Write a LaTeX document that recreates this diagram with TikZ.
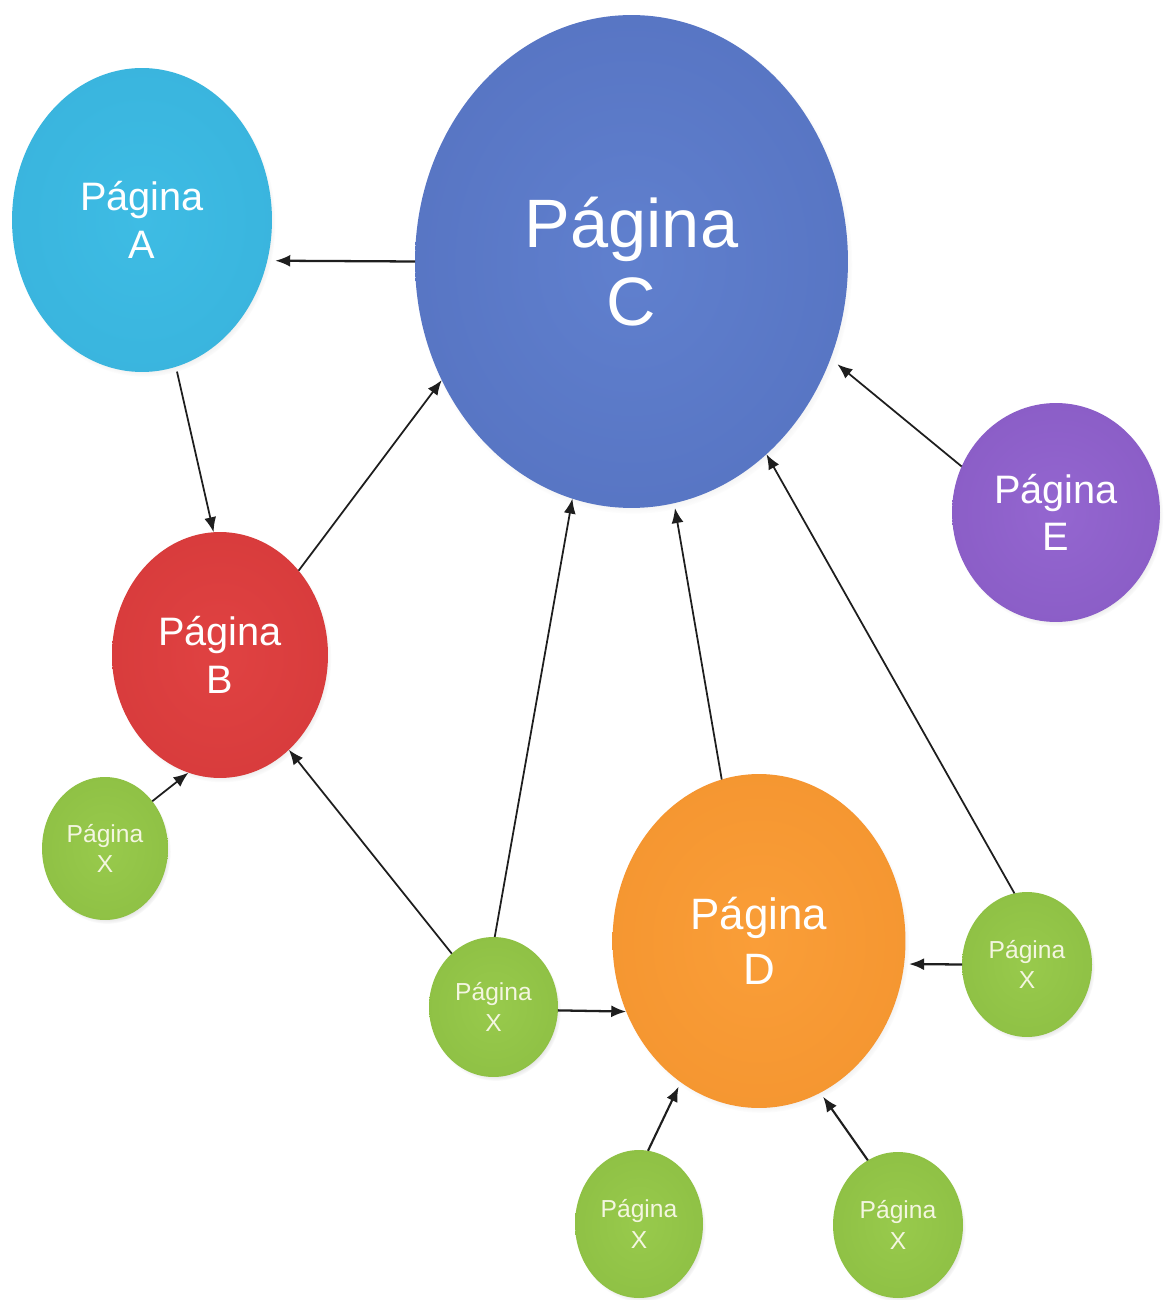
\documentclass[tikz,border=0pt]{standalone}
\usepackage{fontspec}
\setmainfont{Liberation Sans}
\usetikzlibrary{shapes.geometric,arrows.meta,shadows}

\definecolor{aIn}{RGB}{62,188,228}
\definecolor{aOut}{RGB}{32,142,190}
\definecolor{cIn}{RGB}{96,128,206}
\definecolor{cOut}{RGB}{56,76,156}
\definecolor{bIn}{RGB}{224,66,66}
\definecolor{bOut}{RGB}{186,36,38}
\definecolor{eIn}{RGB}{148,102,208}
\definecolor{eOut}{RGB}{104,62,164}
\definecolor{dIn}{RGB}{250,158,56}
\definecolor{dOut}{RGB}{226,120,22}
\definecolor{xIn}{RGB}{152,202,76}
\definecolor{xOut}{RGB}{108,158,42}
\definecolor{lineCol}{RGB}{30,30,30}
\definecolor{txtX}{RGB}{244,246,225}

\pgfdeclareradialshading{shA}{\pgfpoint{0bp}{0bp}}{color(0bp)=(aIn); color(25bp)=(aIn!85!aOut); color(50bp)=(aOut)}
\pgfdeclareradialshading{shC}{\pgfpoint{0bp}{0bp}}{color(0bp)=(cIn); color(25bp)=(cIn!80!cOut); color(50bp)=(cOut)}
\pgfdeclareradialshading{shB}{\pgfpoint{0bp}{0bp}}{color(0bp)=(bIn); color(25bp)=(bIn!80!bOut); color(50bp)=(bOut)}
\pgfdeclareradialshading{shE}{\pgfpoint{0bp}{0bp}}{color(0bp)=(eIn); color(25bp)=(eIn!80!eOut); color(50bp)=(eOut)}
\pgfdeclareradialshading{shD}{\pgfpoint{0bp}{0bp}}{color(0bp)=(dIn); color(25bp)=(dIn!80!dOut); color(50bp)=(dOut)}
\pgfdeclareradialshading{shX}{\pgfpoint{0bp}{0bp}}{color(0bp)=(xIn); color(25bp)=(xIn!80!xOut); color(50bp)=(xOut)}

\tikzset{
  page/.style={ellipse, inner sep=0pt, outer sep=0pt, text=white, align=center,
    circular drop shadow={shadow xshift=1.2pt, shadow yshift=-1.8pt, shadow scale=1.01, opacity=0.4}},
  pagebig/.style={page, font=\fontsize{39}{44}\selectfont},
  pagemid/.style={page, font=\fontsize{22.6}{27}\selectfont},
  pagemidd/.style={page, font=\fontsize{25}{31}\selectfont},
  pagesmall/.style={page, shading=shX, text=txtX, font=\fontsize{14}{17.5}\selectfont},
  arr/.style={draw=lineCol, line width=1pt, -{Latex[length=0.3cm,width=0.24cm]}},
}

\begin{document}
\begin{tikzpicture}[x=0.02cm, y=-0.02cm]
\useasboundingbox[fill=white] (0,0) rectangle (1163,1300);

% nodes
\node[pagemid, shading=shA, minimum width=5.2cm, minimum height=6.08cm] (A) at (142,220) {Página\\A};
\node[pagebig, shading=shC, minimum width=8.66cm, minimum height=9.86cm] (C) at (631.5,261.5) {Página\\C};
\node[pagemid, shading=shB, minimum width=4.32cm, minimum height=4.92cm] (B) at (220,655) {Página\\B};
\node[pagemid, shading=shE, minimum width=4.16cm, minimum height=4.38cm] (E) at (1056,512.5) {Página\\E};
\node[pagemidd, shading=shD, minimum width=5.86cm, minimum height=6.68cm] (D) at (759,941) {Página\\D};
\node[pagesmall, minimum width=2.52cm, minimum height=2.86cm] (X1) at (105,848.5) {Página\\X};
\node[pagesmall, minimum width=2.58cm, minimum height=2.8cm] (X2) at (493.5,1007) {Página\\X};
\node[pagesmall, minimum width=2.6cm, minimum height=2.9cm] (X3) at (1027,964.5) {Página\\X};
\node[pagesmall, minimum width=2.56cm, minimum height=2.96cm] (X4) at (639,1224) {Página\\X};
\node[pagesmall, minimum width=2.6cm, minimum height=2.92cm] (X5) at (898,1225) {Página\\X};

% connectors
\draw[arr, line width=1.3pt, shorten >=0.16cm] (C.180) -- (A.-18);
\draw[arr, shorten <=0.1cm] (A.-77) -- (B.93);
\draw[arr] (B.47) -- (C.-148);
\draw[arr] (X1.45) -- (B.-105);
\draw[arr] (X2.128) -- (B.-54);
\draw[arr] (X2.89) -- (C.-104);
\draw[arr, line width=1.3pt] (X2.-3) -- (D.-152);
\draw[arr, shorten >=0.1cm] (D.103) -- (C.-80);
\draw[arr] (X3.100) -- (C.-55);
\draw[arr, line width=1.3pt, shorten >=0.1cm] (X3.180) -- (D.-9);
\draw[arr, shorten >=0.18cm] (E.154) -- (C.-26);
\draw[arr, line width=1.2pt, shorten >=0.1cm] (X4.83) -- (D.-119);
\draw[arr, line width=1.2pt, shorten >=0.1cm] (X5.115) -- (D.-68);
\end{tikzpicture}
\end{document}
